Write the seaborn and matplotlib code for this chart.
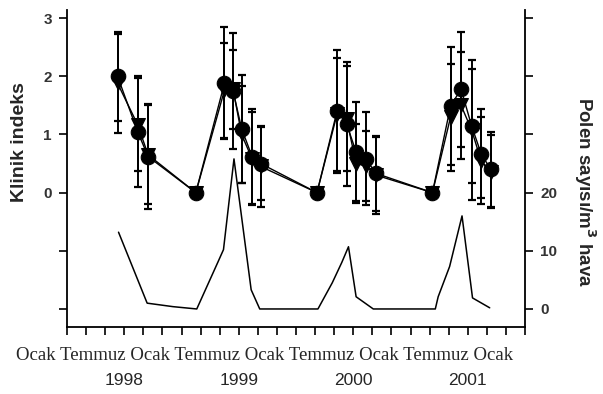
import numpy as np
import pandas as pd
import seaborn as sns
import matplotlib
matplotlib.use("Agg")
import matplotlib.pyplot as plt

# ---- data (x = months, 0 = Ocak 1998) ----
months = [8.3, 10.4, 11.5, 16.5, 19.5, 20.4, 21.3, 22.4, 23.3, 29.2,
          31.3, 32.3, 33.3, 34.3, 35.4, 41.3, 43.2, 44.3, 45.4, 46.4, 47.4]
circle_vals = [2.0, 1.05, 0.62, 0.0, 1.88, 1.75, 1.1, 0.62, 0.5, 0.0,
               1.4, 1.18, 0.7, 0.58, 0.33, 0.0, 1.49, 1.78, 1.15, 0.67, 0.4]
circle_err = [0.77, 0.95, 0.9, 0.0, 0.96, 1.0, 0.93, 0.82, 0.63, 0.0,
              1.06, 1.06, 0.85, 0.8, 0.65, 0.0, 1.02, 0.99, 0.98, 0.77, 0.64]
tri_vals = [1.88, 1.17, 0.65, 0.0, 1.76, 1.78, 1.0, 0.58, 0.45, 0.0,
            1.35, 1.27, 0.5, 0.46, 0.3, 0.0, 1.3, 1.5, 1.08, 0.55, 0.36]
tri_err = [0.85, 0.8, 0.85, 0.0, 0.82, 0.68, 0.83, 0.8, 0.7, 0.0,
           0.97, 0.9, 0.68, 0.6, 0.66, 0.0, 0.92, 0.92, 1.2, 0.75, 0.63]

pollen_months = [8.4, 11.4, 14.1, 16.6, 18.8, 19.4, 20.5, 22.3, 23.2, 29.3,
                 30.8, 31.8, 32.5, 33.3, 35.1, 41.6, 41.9, 43.1, 44.4, 45.5, 47.3]
pollen_vals = [13.2, 1.0, 0.4, 0.0, 8.0, 10.2, 25.8, 3.3, 0.0, 0.0,
               4.5, 8.0, 10.7, 2.1, 0.0, 0.0, 2.1, 7.3, 16.0, 1.9, 0.2]

x_labels = ["Ocak", "Temmuz", "Ocak", "Temmuz", "Ocak", "Temmuz", "Ocak", "Temmuz", "Ocak"]
year_labels = ["1998", "1999", "2000", "2001"]
year_pos = [9, 21, 33, 45]
left_ticks = [-2, -1, 0, 1, 2, 3]
left_ticklabels = ["", "", "0", "1", "2", "3"]
right_ticks = [0, 10, 20, 30, 40, 50]
right_ticklabels = ["0", "10", "20", "", "", ""]

sns.set_style("ticks")
plt.rcParams["font.family"] = ["Liberation Sans", "DejaVu Sans"]

fig = plt.figure(figsize=(6.03, 3.94), dpi=100)
ax = fig.add_axes([67/603, (394-327)/394, (525-67)/603, (327-10)/394])
ax2 = ax.twinx()

df_c = pd.DataFrame({"m": months, "v": circle_vals})
df_t = pd.DataFrame({"m": months, "v": tri_vals})
df_p = pd.DataFrame({"m": pollen_months, "v": pollen_vals})

# error bars
ax.errorbar(months, circle_vals, yerr=circle_err, fmt="none", ecolor="black",
            elinewidth=1.4, capsize=3.2, capthick=1.6, zorder=2)
ax.errorbar(months, tri_vals, yerr=tri_err, fmt="none", ecolor="black",
            elinewidth=1.4, capsize=3.2, capthick=1.6, zorder=2)

sns.lineplot(data=df_t, x="m", y="v", ax=ax, color="black", lw=1.0,
             marker="v", markersize=10.5, markeredgecolor="black", zorder=3)
sns.lineplot(data=df_c, x="m", y="v", ax=ax, color="black", lw=1.0,
             marker="o", markersize=10.5, markeredgecolor="black", zorder=3)
sns.lineplot(data=df_p, x="m", y="v", ax=ax2, color="black", lw=1.1)

ax.set_xlim(3, 51)
ax.set_ylim(-2.31, 3.14)
ax2.set_ylim(-3.1, 51.4)

ax.set_xticks(np.arange(3, 52, 2))
ax.set_xticklabels([])
ax.set_yticks(left_ticks)
ax.set_yticklabels(left_ticklabels, fontweight="bold", fontsize=11, color="#333333")
ax2.set_yticks(right_ticks)
ax2.set_yticklabels(right_ticklabels, fontweight="bold", fontsize=11, color="#333333")

for a in (ax, ax2):
    a.spines["top"].set_visible(False)
    for s in a.spines.values():
        s.set_linewidth(1.3)
        s.set_color("black")
    a.set_xlabel("")
    a.set_ylabel("")
ax.spines["right"].set_visible(False)
ax2.spines["left"].set_visible(False)
ax2.spines["bottom"].set_visible(False)
ax.tick_params(axis="both", direction="out", length=6, width=1.2, color="black", pad=5)
ax2.tick_params(axis="y", direction="out", length=6, width=1.2, color="black", pad=5)

fig.text(20/603, 1 - 142/394, "Klinik indeks", rotation=90, ha="center", va="center",
         fontsize=14, fontweight="bold")
fig.text(585/603, 1 - 192/394, "Polen sayısı/m$^\\mathbf{3}$ hava", rotation=270,
         ha="center", va="center", fontsize=13.5, fontweight="bold")

fig.text(265/603, 1 - 355/394, " ".join(x_labels), ha="center", va="center",
         fontsize=13.5, family=["Liberation Serif", "DejaVu Serif"])
for lab, p in zip(year_labels, year_pos):
    ax.text(p, -0.168, lab, transform=ax.get_xaxis_transform(), ha="center",
            va="center", fontsize=12.5, clip_on=False)

fig.savefig("out.png", dpi=100)
